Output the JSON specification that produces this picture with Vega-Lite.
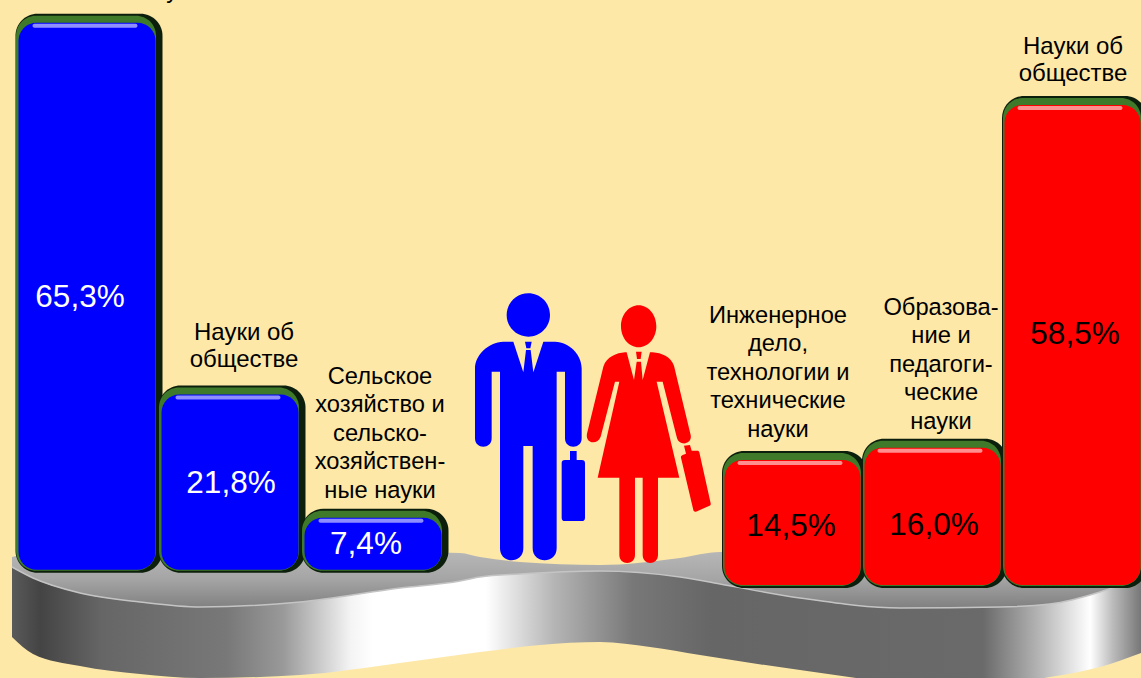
{
"$schema":"https://vega.github.io/schema/vega-lite/v6.json",
"width":1141,"height":678,"padding":0,"autosize":{"type":"none"},
"background":"#FDE8A8",
"config":{"view":{"stroke":null},"text":{"font":"Liberation Sans"}},
"datasets":{
"bars":[
{"slot":"М1","group":"Мужчины","value":65.3,"pct":"65,3%","label":"Инженерное|дело,|технологии и|технические науки"},
{"slot":"М2","group":"Мужчины","value":21.8,"pct":"21,8%","label":"Науки об|обществе"},
{"slot":"М3","group":"Мужчины","value":7.4,"pct":"7,4%","label":"Сельское|хозяйство и|сельско-|хозяйствен-|ные науки"},
{"slot":"Ж1","group":"Женщины","value":14.5,"pct":"14,5%","label":"Инженерное|дело,|технологии и|технические|науки"},
{"slot":"Ж2","group":"Женщины","value":16.0,"pct":"16,0%","label":"Образова-|ние и|педагоги-|ческие|науки"},
{"slot":"Ж3","group":"Женщины","value":58.5,"pct":"58,5%","label":"Науки об|обществе"}
],
"front":[
{"x":12,"t":567,"b":637},{"x":33,"t":578,"b":654},{"x":80,"t":593,"b":666},{"x":140,"t":602,"b":674},{"x":200,"t":607,"b":678},{"x":300,"t":602,"b":675},{"x":400,"t":588,"b":663},{"x":480,"t":577,"b":652},{"x":540,"t":572,"b":645},{"x":600,"t":571,"b":642},{"x":650,"t":573,"b":647},{"x":700,"t":580,"b":655},{"x":800,"t":598,"b":670},{"x":900,"t":608,"b":682},{"x":1000,"t":607,"b":684},{"x":1050,"t":604,"b":677},{"x":1100,"t":592,"b":667},{"x":1141,"t":577,"b":653}
],
"surface":[
{"x":12,"t":557,"b":567},{"x":33,"t":553,"b":578},{"x":80,"t":551,"b":593},{"x":140,"t":550,"b":602},{"x":200,"t":550,"b":607},{"x":300,"t":551,"b":602},{"x":400,"t":552,"b":588},{"x":460,"t":553,"b":581},{"x":480,"t":557,"b":577},{"x":520,"t":562,"b":574},{"x":600,"t":565,"b":571},{"x":680,"t":558,"b":577},{"x":720,"t":552,"b":584},{"x":800,"t":552,"b":598},{"x":900,"t":552,"b":608},{"x":1000,"t":552,"b":607},{"x":1050,"t":553,"b":604},{"x":1100,"t":556,"b":592},{"x":1141,"t":562,"b":577}
],
"figures":[{"figure":"Мужчина","x":460,"y":285},{"figure":"Женщина","x":460,"y":285}]
},
"layer":[
{"encoding":{
  "x":{"field":"x","type":"quantitative","axis":null,"scale":{"domain":[0,1141],"range":[0,1141],"nice":false,"zero":false}},
  "y":{"field":"t","type":"quantitative","axis":null,"scale":{"domain":[0,678],"range":[0,678],"nice":false,"zero":false}}},
 "layer":[
 {"data":{"name":"front"},
  "mark":{"type":"area","interpolate":"monotone","clip":false,"color":{"gradient":"linear","x1":0,"y1":0,"x2":1,"y2":0,"stops":[
   {"offset":0,"color":"#5a5a5a"},{"offset":0.025,"color":"#444444"},{"offset":0.08,"color":"#666666"},{"offset":0.19,"color":"#787878"},{"offset":0.24,"color":"#999999"},{"offset":0.3,"color":"#f4f4f4"},{"offset":0.32,"color":"#ffffff"},{"offset":0.42,"color":"#ffffff"},{"offset":0.48,"color":"#b5b5b5"},{"offset":0.55,"color":"#787878"},{"offset":0.62,"color":"#666666"},{"offset":0.86,"color":"#6a6a6a"},{"offset":0.91,"color":"#b5b5b5"},{"offset":0.955,"color":"#ffffff"},{"offset":0.975,"color":"#bbbbbb"},{"offset":1,"color":"#777777"}]}},
  "encoding":{"y2":{"field":"b"}}},
 {"data":{"name":"surface"},
  "mark":{"type":"area","interpolate":"monotone","color":{"gradient":"linear","x1":0,"y1":0,"x2":0,"y2":1,"stops":[{"offset":0,"color":"#b8b8b8"},{"offset":0.5,"color":"#a5a5a5"},{"offset":1,"color":"#808080"}]}},
  "encoding":{"y2":{"field":"b"}}},
 {"data":{"name":"surface"},
  "mark":{"type":"line","interpolate":"monotone","stroke":"#c4c4c4","strokeWidth":1.5},
  "encoding":{"y":{"field":"b","type":"quantitative"}}}
 ]},
{"data":{"name":"figures"},
 "mark":{"type":"point","filled":true,"opacity":1,"size":0.4444,"strokeWidth":0},
 "encoding":{
  "x":{"field":"x","type":"quantitative","axis":null,"scale":{"domain":[0,1141],"range":[0,1141],"nice":false,"zero":false}},
  "y":{"field":"y","type":"quantitative","axis":null,"scale":{"domain":[0,678],"range":[0,678],"nice":false,"zero":false}},
  "color":{"field":"figure","type":"nominal","legend":null,"scale":{"domain":["Мужчина","Женщина"],"range":["#0000ff","#ff0000"]}},
  "shape":{"field":"figure","type":"nominal","legend":null,"scale":{"domain":["Мужчина","Женщина"],"range":[
  "M205,25C241,25 270,54 270,90C270,126 241,155 205,155C169,155 140,126 140,90C140,54 169,25 205,25ZM130,170L160,170L190,262L198,195L212,195L220,262L250,170L285,170C330,172 365,210 365,250L365,460C365,494 315,494 315,460L315,260L290,260L290,790C290,838 218,838 218,790L218,483L190,483L190,790C190,838 120,838 120,790L120,260L95,260L95,460C95,494 45,494 45,460L45,250C45,210 85,172 130,170ZM195,170L215,170L211,190L199,190ZM330,498L350,498L350,525L365,525C372,525 375,528 375,535L375,698C375,705 372,708 365,708L315,708C308,708 305,705 305,698L305,535C305,528 308,525 315,525L330,525Z",
  "M536,61C565,61 589,89 589,124C589,159 565,187 536,187C507,187 483,159 483,124C483,89 507,61 536,61ZM495,202L500,202L522,285L530,230L543,230L548,285L570,202L578,202C605,204 632,215 642,242L692,450C698,480 655,485 650,455L608,290L590,290L658,578L594,578L594,810C594,842 548,842 548,810L548,578L525,578L525,810C525,842 478,842 478,810L478,578L413,578L478,290L465,290L422,455C412,482 372,475 382,442L430,245C440,215 470,204 495,202ZM528,200L545,200L542,222L531,222ZM672,482L690,480L695,497L712,497C716,497 717,499 718,502L752,655C753,660 751,662 747,663L708,680C703,681 701,678 700,675L663,518C662,514 664,512 668,510L678,506Z"
  ]}}
 }},
{"data":{"name":"bars"},"transform":[{"filter":"datum.group==='Мужчины'"}],
 "encoding":{
  "x":{"field":"slot","type":"nominal","axis":null,"sort":null,"scale":{"type":"band","domain":["М1","М2","М3"],"range":[15.5,444.5],"paddingInner":0,"paddingOuter":0}},
  "y":{"field":"value","type":"quantitative","axis":null,"scale":{"domain":[-11.35,67.95],"nice":false,"zero":false}}},
 "layer":[
 {"mark":{"type":"bar","color":"#0c1f0c","cornerRadius":22,"width":147,"xOffset":2,"yOffset":-9,"y2Offset":3},"encoding":{"y2":{"datum":1.3}}},
 {"mark":{"type":"bar","color":"#3f7a2a","cornerRadius":20,"width":140,"xOffset":-1,"yOffset":-7,"y2Offset":1},"encoding":{"y2":{"datum":1.3}}},
 {"mark":{"type":"bar","color":"#0000ff","cornerRadius":18,"width":137},"encoding":{"y2":{"datum":1.3}}},
 {"mark":{"type":"bar","color":"#8e8eff","cornerRadius":2,"width":105,"xOffset":-2,"yOffset":1,"y2Offset":5},"encoding":{"y2":{"field":"value"}}},
 {"transform":[{"filter":"datum.slot==='М1'"}],"mark":{"type":"text","baseline":"bottom","fontSize":23.7,"lineBreak":"|","lineHeight":28.5,"color":"#000000","dx":13,"dy":-105.5},"encoding":{"text":{"field":"label","type":"nominal"}}},
 {"transform":[{"filter":"datum.slot==='М2'"}],"mark":{"type":"text","baseline":"bottom","fontSize":24,"lineBreak":"|","lineHeight":27,"color":"#000000","dx":14,"dy":-50},"encoding":{"text":{"field":"label","type":"nominal"}}},
 {"transform":[{"filter":"datum.slot==='М3'"}],"mark":{"type":"text","baseline":"bottom","fontSize":23.7,"lineBreak":"|","lineHeight":28.5,"color":"#000000","dx":7,"dy":-129},"encoding":{"text":{"field":"label","type":"nominal"}}}
 ]},
{"data":{"name":"bars"},"transform":[{"filter":"datum.group==='Женщины'"}],
 "encoding":{
  "x":{"field":"slot","type":"nominal","axis":null,"sort":null,"scale":{"type":"band","domain":["Ж1","Ж2","Ж3"],"range":[722,1142],"paddingInner":0,"paddingOuter":0}},
  "y":{"field":"value","type":"quantitative","axis":null,"scale":{"domain":[-12.52,71.5],"nice":false,"zero":false}}},
 "layer":[
 {"mark":{"type":"bar","color":"#0c1f0c","cornerRadius":22,"width":145,"xOffset":2.5,"yOffset":-9,"y2Offset":3},"encoding":{"y2":{"datum":-1}}},
 {"mark":{"type":"bar","color":"#3f7a2a","cornerRadius":20,"width":138,"xOffset":0,"yOffset":-7,"y2Offset":1},"encoding":{"y2":{"datum":-1}}},
 {"mark":{"type":"bar","color":"#ff0000","cornerRadius":18,"width":136,"xOffset":0.5},"encoding":{"y2":{"datum":-1}}},
 {"mark":{"type":"bar","color":"#ff8e8e","cornerRadius":2,"width":105,"xOffset":-2,"yOffset":1,"y2Offset":5},"encoding":{"y2":{"field":"value"}}},
 {"transform":[{"filter":"datum.slot==='Ж1'"}],"mark":{"type":"text","baseline":"bottom","fontSize":23.7,"lineBreak":"|","lineHeight":28.5,"color":"#000000","dx":-14,"dy":-132},"encoding":{"text":{"field":"label","type":"nominal"}}},
 {"transform":[{"filter":"datum.slot==='Ж2'"}],"mark":{"type":"text","baseline":"bottom","fontSize":23.7,"lineBreak":"|","lineHeight":28.5,"color":"#000000","dx":9,"dy":-128},"encoding":{"text":{"field":"label","type":"nominal"}}},
 {"transform":[{"filter":"datum.slot==='Ж3'"}],"mark":{"type":"text","baseline":"bottom","fontSize":24,"lineBreak":"|","lineHeight":27,"color":"#000000","dx":1,"dy":-46},"encoding":{"text":{"field":"label","type":"nominal"}}}
 ]},
{"data":{"name":"bars"},"transform":[{"filter":"datum.group==='Мужчины'"}],
 "encoding":{
  "x":{"field":"slot","type":"nominal","axis":null,"sort":null,"scale":{"type":"band","domain":["М1","М2","М3"],"range":[15.5,444.5],"paddingInner":0,"paddingOuter":0}},
  "y":{"field":"value","type":"quantitative","axis":null,"scale":{"domain":[-23.65,135.1],"nice":false,"zero":false}},
  "text":{"field":"pct","type":"nominal"}},
 "layer":[
 {"transform":[{"filter":"datum.slot!=='М2'"}],"mark":{"type":"text","fontSize":31.5,"color":"#ffffff","dx":-7}},
 {"transform":[{"filter":"datum.slot==='М2'"}],"mark":{"type":"text","fontSize":31.5,"color":"#ffffff","dx":1}}
 ]},
{"data":{"name":"bars"},"transform":[{"filter":"datum.group==='Женщины'"}],
 "encoding":{
  "x":{"field":"slot","type":"nominal","axis":null,"sort":null,"scale":{"type":"band","domain":["Ж1","Ж2","Ж3"],"range":[722,1142],"paddingInner":0,"paddingOuter":0}},
  "y":{"field":"value","type":"quantitative","axis":null,"scale":{"domain":[-20.23,135.6],"nice":false,"zero":false}},
  "text":{"field":"pct","type":"nominal"}},
 "layer":[
 {"transform":[{"filter":"datum.slot==='Ж1'"}],"mark":{"type":"text","fontSize":31.5,"color":"#000000","dx":-1}},
 {"transform":[{"filter":"datum.slot==='Ж2'"}],"mark":{"type":"text","fontSize":31.5,"color":"#000000","dx":2,"dy":6}},
 {"transform":[{"filter":"datum.slot==='Ж3'"}],"mark":{"type":"text","fontSize":31.5,"color":"#000000","dx":3}}
 ]}
],
"resolve":{"scale":{"x":"independent","y":"independent","color":"independent","shape":"independent"}}
}
